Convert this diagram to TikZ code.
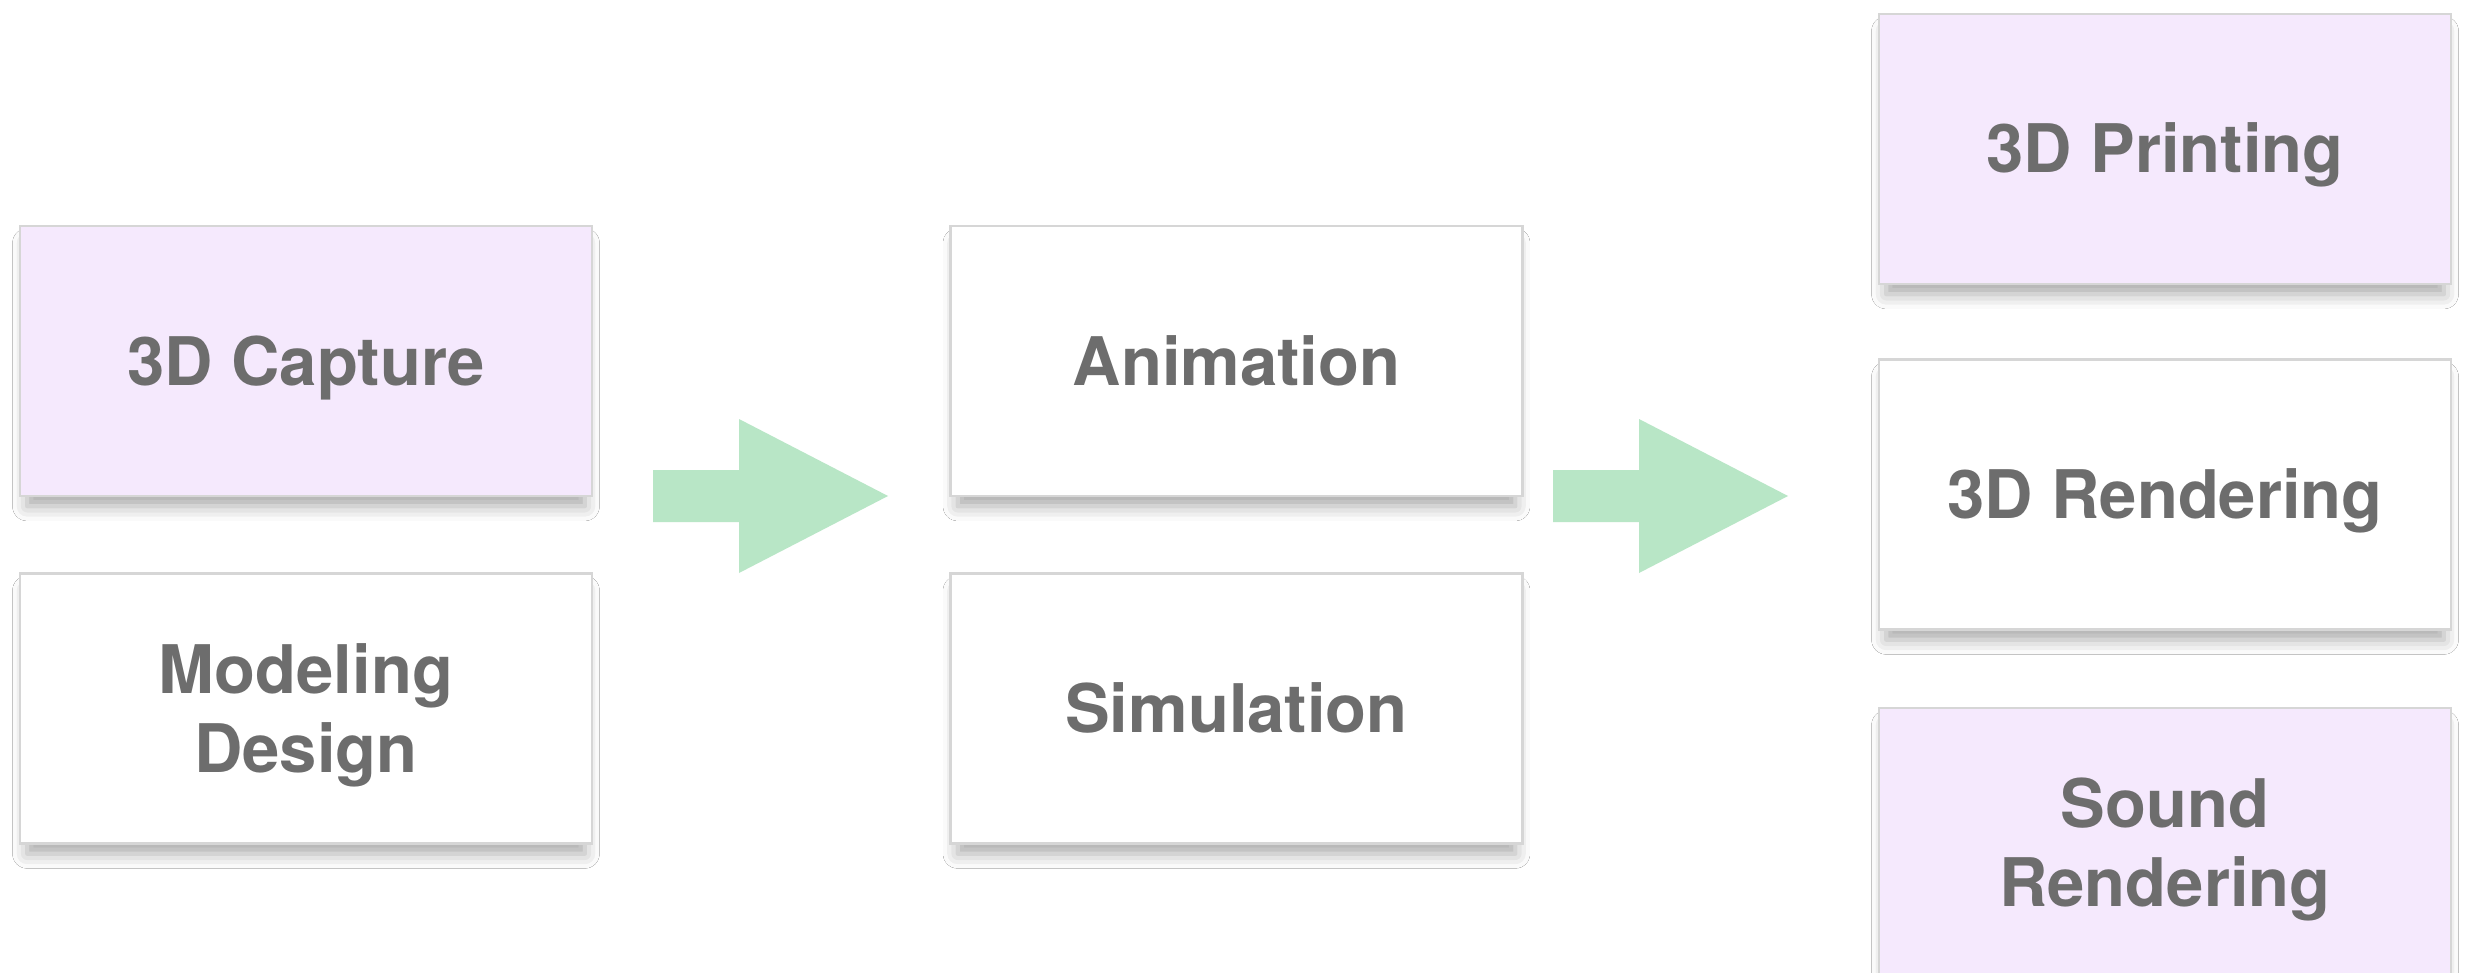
\documentclass[tikz,border=0pt]{standalone}
\usepackage{fontspec}
\setmainfont{TeX Gyre Heros}
\usetikzlibrary{shadows.blur}
\definecolor{boxlilac}{HTML}{F5E9FD}
\definecolor{boxedge}{HTML}{D6D6D6}
\definecolor{labelgray}{HTML}{6D6D6D}
\definecolor{flowgreen}{HTML}{B8E6C6}
\tikzset{
  card/.style={draw=boxedge, line width=2.5pt, fill=white,
    minimum width=572pt, minimum height=270pt, inner sep=0pt,
    align=center, text=labelgray,
    font=\fontsize{67}{79}\selectfont\bfseries,
    text height=48pt, text depth=0pt,
    blur shadow={shadow xshift=0pt, shadow yshift=-14pt, shadow scale=0.975,
      shadow blur radius=15pt, shadow opacity=34}},
  twoline/.style={text height=127pt, text depth=0pt},
  lilac/.style={card, fill=boxlilac},
  flowarrow/.style={fill=flowgreen, draw=none}
}
\begin{document}
\begin{tikzpicture}[x=1pt, y=-1pt]
  \useasboundingbox (0,0) rectangle (2468,973);
  \clip (0,0) rectangle (2468,973);
  \fill[white] (0,0) rectangle (2468,973);

  % input stage
  \node[lilac] (capture)            at (306,361)    {3D Capture};
  \node[card, twoline] (modeling)   at (306,708.5)  {Modeling\\Design};

  % processing stage
  \node[card]  (animation)  at (1236.5,361)   {Animation};
  \node[card]  (simulation) at (1236.5,708.5) {Simulation};

  % output stage
  \node[lilac] (printing)        at (2165,149)   {3D Printing};
  \node[card]  (rendering)       at (2165,494.5) {3D Rendering};
  \node[lilac, twoline] (sound)  at (2165,843)   {Sound\\Rendering};

  % flow arrows between the stages
  \coordinate (a1) at (653,495);
  \coordinate (a2) at (1553,495);
  \foreach \a in {a1,a2}{
    \fill[flowarrow] (\a) ++(0,-25) -- ++(86,0) -- ++(0,-51)
      -- ++(149,77) -- ++(-149,77) -- ++(0,-51) -- ++(-86,0) -- cycle;
  }
\end{tikzpicture}
\end{document}
